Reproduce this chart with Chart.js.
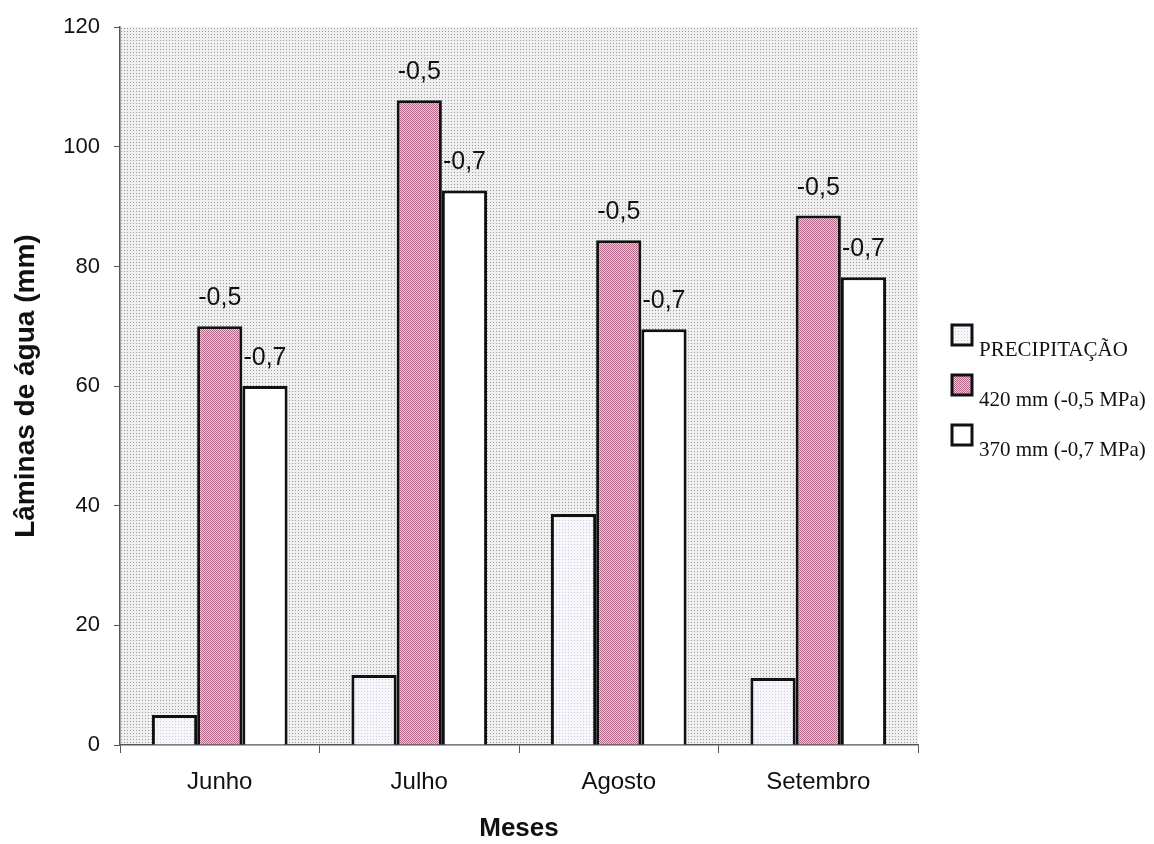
<!DOCTYPE html>
<html>
<head>
<meta charset="utf-8">
<script src="https://cdn.jsdelivr.net/npm/chart.js@4"></script>
<style>
  html, body { margin: 0; padding: 0; background: #fff; }
  #wrap { width: 1154px; height: 844px; position: relative; }
</style>
</head>
<body>
<div id="wrap"><canvas id="chart"></canvas></div>
<script>
// ── Data ──────────────────────────────────────────────────────────────────
const MONTHS        = ['Junho', 'Julho', 'Agosto', 'Setembro'];
const PRECIPITACAO  = [5, 11.7, 38.6, 11.2];
const LAMINA_420    = [70, 107.8, 84.4, 88.5];
const LAMINA_370    = [60, 92.7, 69.5, 78.2];
const SERIES_LABELS = ['PRECIPITAÇÃO', '420 mm (-0,5 MPa)', '370 mm (-0,7 MPa)'];
const BAR_TAGS      = [null, '-0,5', '-0,7'];
const Y_TICKS       = [0, 20, 40, 60, 80, 100, 120];

const SANS  = '"Liberation Sans", Arial, sans-serif';
const SERIF = '"Liberation Serif", "Times New Roman", serif';

// ── Patterns (scanned halftone look) ─────────────────────────────────────
function makePattern(size, bg, dot, cells) {
    const c = document.createElement('canvas');
    c.width = size; c.height = size;
    const g = c.getContext('2d');
    g.fillStyle = bg;
    g.fillRect(0, 0, size, size);
    g.fillStyle = dot;
    cells.forEach(([x, y]) => g.fillRect(x, y, 1, 1));
    return g.createPattern(c, 'repeat');
}

const ctx = document.getElementById('chart').getContext('2d');
const plotBg    = makePattern(3, '#efefef', '#9c9c9c', [[1, 1]]);
const precipBg  = makePattern(3, '#f7f6fb', '#cfcadf', [[1, 1]]);
const pinkBg    = makePattern(2, '#f4c2d4', '#b5698a', [[0, 0], [1, 1]]);
const FILLS     = [precipBg, pinkBg, '#ffffff'];

// ── Plugins ──────────────────────────────────────────────────────────────
const plotBackground = {
    id: 'plotBackground',
    beforeDraw(chart) {
        const { ctx: c, chartArea: a } = chart;
        c.save();
        c.fillStyle = plotBg;
        c.fillRect(a.left, a.top, a.right - a.left, a.bottom - a.top);
        c.restore();
    }
};

const barTags = {
    id: 'barTags',
    afterDatasetsDraw(chart) {
        const c = chart.ctx;
        c.save();
        c.font = '25px ' + SANS;
        c.fillStyle = '#111';
        c.textAlign = 'center';
        c.textBaseline = 'middle';
        chart.data.datasets.forEach((ds, i) => {
            const tag = BAR_TAGS[i];
            if (!tag) return;
            chart.getDatasetMeta(i).data.forEach(bar => {
                c.fillText(tag, bar.x, bar.y - 28);
            });
        });
        c.restore();
    }
};

const sideLegend = {
    id: 'sideLegend',
    afterDraw(chart) {
        const c = chart.ctx;
        c.save();
        c.font = '21px ' + SERIF;
        c.textBaseline = 'alphabetic';
        c.textAlign = 'left';
        chart.data.datasets.forEach((ds, i) => {
            const top = 325 + i * 50;
            c.fillStyle = FILLS[i];
            c.fillRect(952, top, 20, 20);
            c.strokeStyle = '#111';
            c.lineWidth = 3;
            c.strokeRect(952, top, 20, 20);
            c.fillStyle = '#111';
            c.fillText(ds.label, 979, top + 31);
        });
        c.restore();
    }
};

// ── Chart ────────────────────────────────────────────────────────────────
new Chart(ctx, {
    type: 'bar',
    data: {
        labels: MONTHS,
        datasets: [PRECIPITACAO, LAMINA_420, LAMINA_370].map((vals, i) => ({
            label:              SERIES_LABELS[i],
            data:               vals,
            backgroundColor:    FILLS[i],
            borderColor:        '#111',
            borderWidth:        3,
            borderSkipped:      'bottom',
            barPercentage:      1,
            categoryPercentage: 0.68
        }))
    },
    options: {
        responsive: true,
        maintainAspectRatio: false,
        animation: false,
        layout: { padding: { top: 27, right: 236, left: 0, bottom: 0 } },
        plugins: {
            legend:  { display: false },
            tooltip: { enabled: false }
        },
        scales: {
            x: {
                afterFit: s => { s.height = 99; },
                grid:   { display: true, drawOnChartArea: false, drawTicks: true, tickLength: 8, color: '#555', offset: true },
                border: { color: '#555', width: 1.5 },
                ticks:  { color: '#111', padding: 15, font: { family: SANS, size: 24 } },
                title:  { display: true, text: 'Meses', color: '#111', padding: { top: 0, bottom: 0 },
                          font: { family: SANS, size: 26, weight: 'bold' } }
            },
            y: {
                min: 0, max: 120,
                afterFit: s => { s.width = 120; },
                afterBuildTicks: s => { s.ticks = Y_TICKS.map(v => ({ value: v })); },
                grid:   { display: true, drawOnChartArea: false, drawTicks: true, tickLength: 6, color: '#555' },
                border: { color: '#555', width: 1.5 },
                ticks:  { color: '#111', padding: 14, font: { family: SANS, size: 22 } },
                title:  { display: true, text: 'Lâminas de água (mm)', color: '#111', padding: { top: 9, bottom: 0 },
                          font: { family: SANS, size: 28, weight: 'bold' } }
            }
        }
    },
    plugins: [plotBackground, barTags, sideLegend]
});
</script>
</body>
</html>
